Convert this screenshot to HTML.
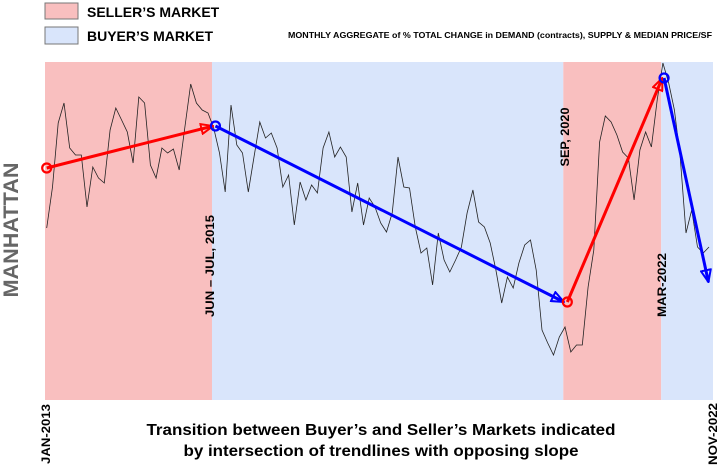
<!DOCTYPE html>
<html><head><meta charset="utf-8"><style>
html,body{margin:0;padding:0;background:#fff}
svg{display:block;font-family:"Liberation Sans",Arial,sans-serif}
</style></head><body>
<svg id="chart" width="720" height="467" viewBox="0 0 720 467" xmlns="http://www.w3.org/2000/svg">
<defs>
<marker id="arR" viewBox="0 0 14 12" refX="13" refY="6" markerWidth="14" markerHeight="12" markerUnits="userSpaceOnUse" orient="auto"><path d="M1,1 L13,6 L1,11 Z" fill="none" stroke="#f00" stroke-width="2"/></marker>
<marker id="arB" viewBox="0 0 14 12" refX="13" refY="6" markerWidth="14" markerHeight="12" markerUnits="userSpaceOnUse" orient="auto"><path d="M1,1 L13,6 L1,11 Z" fill="none" stroke="#00f" stroke-width="2"/></marker>
</defs>
<rect x="45" y="3" width="33" height="16" fill="#f9bfbf" stroke="#777"/>
<text x="87" y="17" font-size="14" font-weight="bold">SELLER’S MARKET</text>
<rect x="45" y="27" width="33" height="17" fill="#d9e5fb" stroke="#777"/>
<text x="87" y="41" font-size="14" font-weight="bold">BUYER’S MARKET</text>
<text x="288" y="38" font-size="8.5" font-weight="bold" textLength="424" lengthAdjust="spacingAndGlyphs">MONTHLY AGGREGATE of % TOTAL CHANGE in DEMAND (contracts), SUPPLY &amp; MEDIAN PRICE/SF</text>
<g id="regions"></g>
<g id="series"></g>
<g id="trends"></g>
<text transform="translate(18,230) rotate(-90)" text-anchor="middle" font-size="21" font-weight="bold" fill="#666" textLength="135" lengthAdjust="spacingAndGlyphs">MANHATTAN</text>
<text transform="translate(214,266) rotate(-90)" text-anchor="middle" font-size="12" font-weight="bold" textLength="102" lengthAdjust="spacingAndGlyphs">JUN – JUL, 2015</text>
<text transform="translate(569,137) rotate(-90)" text-anchor="middle" font-size="12" font-weight="bold" textLength="59" lengthAdjust="spacingAndGlyphs">SEP, 2020</text>
<text transform="translate(666,285) rotate(-90)" text-anchor="middle" font-size="12" font-weight="bold" textLength="64" lengthAdjust="spacingAndGlyphs">MAR-2022</text>
<text transform="translate(50,434) rotate(-90)" text-anchor="middle" font-size="12" font-weight="bold" textLength="60" lengthAdjust="spacingAndGlyphs">JAN-2013</text>
<text transform="translate(717,434) rotate(-90)" text-anchor="middle" font-size="12" font-weight="bold" textLength="62" lengthAdjust="spacingAndGlyphs">NOV-2022</text>
<text x="381" y="435" text-anchor="middle" font-size="16" font-weight="bold" textLength="469" lengthAdjust="spacingAndGlyphs">Transition between Buyer’s and Seller’s Markets indicated</text>
<text x="381" y="456" text-anchor="middle" font-size="16" font-weight="bold" textLength="395" lengthAdjust="spacingAndGlyphs">by intersection of trendlines with opposing slope</text>
</svg>
<script>
const values=[172,213,277,297,252,245,245,193,233,222,217,270,292,280,268,237,303,297,235,222,252,247,251,230,273,316,297,290,287,272,247,208,295,255,247,208,243,278,262,267,252,213,225,175,218,200,215,207,252,268,243,253,243,188,217,175,202,193,177,168,187,243,213,212,173,147,152,115,167,140,128,140,153,187,210,178,173,157,130,97,123,112,137,155,160,130,70,57,45,63,73,48,55,55,113,150,258,284,278,265,248,242,200,250,268,253,300,337,317,290,243,167,190,153,147,153];
const regionStarts=[0,28.7,89.7,106.7];
const regionEnds=[28.7,89.7,106.7,115];
const regionTypes=["seller","buyer","seller","buyer"];
const trendStartIdx=[0,29.3,90.4,107.2];
const trendStartVal=[232,274,98,322];
const trendEndIdx=[28.9,89.8,106.9,114.9];
const trendEndVal=[274,98,322,118];
const trendTypes=["seller","buyer","seller","buyer"];
const X0=46.7,X1=709,Y0=400,Y1=62,VMAX=338;
function x(i){return X0+i*(X1-X0)/(values.length-1);}
function y(v){return Y0-(v/VMAX)*(Y0-Y1);}
const NS="http://www.w3.org/2000/svg";
const reg=document.getElementById('regions');
regionTypes.forEach((t,k)=>{
  const r=document.createElementNS(NS,'rect');
  const a=k===0?45:x(regionStarts[k]);const b=k===regionTypes.length-1?713:x(regionEnds[k]);
  r.setAttribute('x',a);r.setAttribute('y',Y1);r.setAttribute('width',b-a);r.setAttribute('height',Y0-Y1);
  r.setAttribute('fill',t==='seller'?'#f9bfbf':'#d9e5fb');
  
  
  reg.appendChild(r);
});
const ser=document.getElementById('series');
const p=document.createElementNS(NS,'polyline');
p.setAttribute('points',values.map((v,i)=>x(i).toFixed(1)+','+y(v).toFixed(1)).join(' '));
p.setAttribute('fill','none');p.setAttribute('stroke','#222');p.setAttribute('stroke-width','0.8');


ser.appendChild(p);
const tr=document.getElementById('trends');
trendTypes.forEach((t,k)=>{
  const col=t==='seller'?'#f00':'#00f';
  const l=document.createElementNS(NS,'line');
  l.setAttribute('x1',x(trendStartIdx[k]));l.setAttribute('y1',y(trendStartVal[k]));
  l.setAttribute('x2',x(trendEndIdx[k]));l.setAttribute('y2',y(trendEndVal[k]));
  l.setAttribute('stroke',col);l.setAttribute('stroke-width','3');
  l.setAttribute('marker-end',t==='seller'?'url(#arR)':'url(#arB)');
  
  
  tr.appendChild(l);
  const c=document.createElementNS(NS,'circle');
  c.setAttribute('cx',x(trendStartIdx[k]));c.setAttribute('cy',y(trendStartVal[k]));c.setAttribute('r','4.5');
  c.setAttribute('fill','none');c.setAttribute('stroke',col);c.setAttribute('stroke-width','2.2');
  
  
  tr.appendChild(c);
});
</script>
</body></html>
